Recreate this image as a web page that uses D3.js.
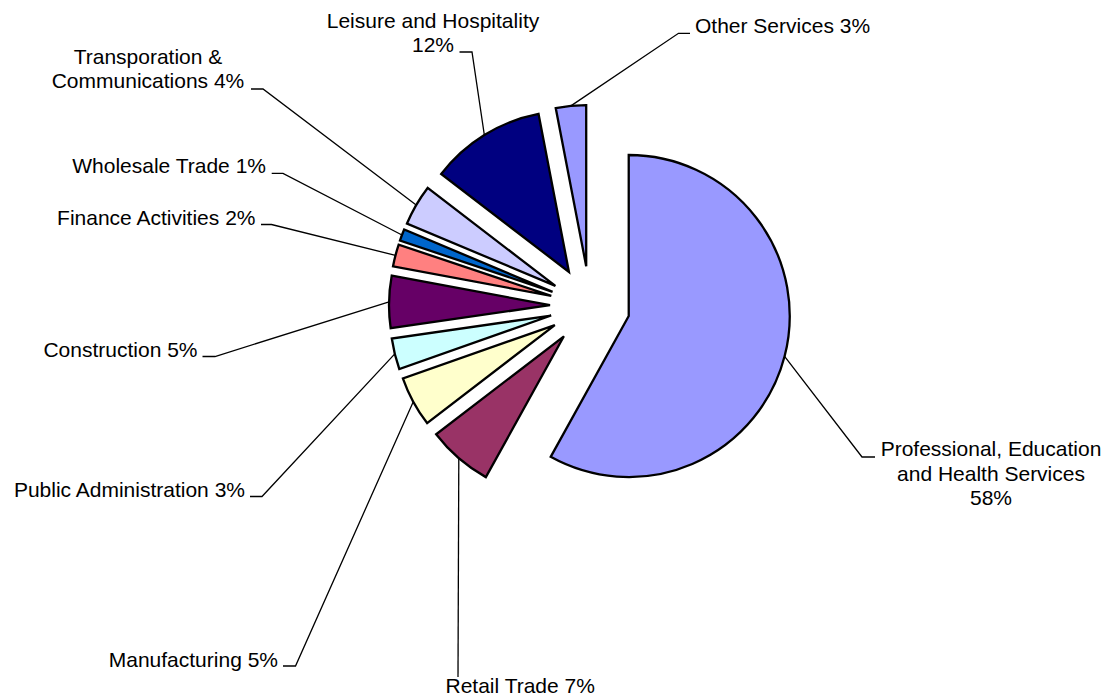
<!DOCTYPE html>
<html>
<head>
<meta charset="utf-8">
<script src="https://cdn.jsdelivr.net/npm/d3@7"></script>
<style>
  html, body { margin: 0; padding: 0; background: #ffffff; }
  svg { display: block; }
  text { font-family: "Liberation Sans", Arial, sans-serif; font-size: 21px; fill: #000; }
</style>
</head>
<body>
<svg id="chart" width="1109" height="698"></svg>
<script>
// ---- data ----
const categories = [
  "Professional, Education and Health Services",
  "Retail Trade",
  "Manufacturing",
  "Public Administration",
  "Construction",
  "Finance Activities",
  "Wholesale Trade",
  "Transporation & Communications",
  "Leisure and Hospitality",
  "Other Services"
];
const values = [58.06, 6.53, 5.03, 3.11, 5.22, 2.22, 1.17, 4.08, 11.56, 3.03];
const colors = ["#9999FF", "#993366", "#FFFFCC", "#CCFFFF", "#660066",
                "#FF8080", "#0066CC", "#CCCCFF", "#000080", "#9999FF"];

// ---- layout (label placement, words per line) ----
const labelLayout = [
  { anchor: "middle", x: 991,   y: 456,   lh: 24.5, words: [2, 3, 1], leader: [[862, 457], [875, 457]] },
  { anchor: "start",  x: 445.5, y: 693,   lh: 24,   words: null,      leader: [[458, 677]] },
  { anchor: "end",    x: 278,   y: 667,   lh: 24,   words: null,      leader: [[295.5, 666], [283, 666]] },
  { anchor: "end",    x: 245,   y: 497,   lh: 24,   words: null,      leader: [[262, 496.5], [250, 496.5]] },
  { anchor: "end",    x: 197.5, y: 357,   lh: 24,   words: null,      leader: [[215, 356.5], [202.5, 356.5]] },
  { anchor: "end",    x: 255.5, y: 224.5, lh: 24,   words: null,      leader: [[271.5, 224.5], [261, 224.5]] },
  { anchor: "end",    x: 266,   y: 172.5, lh: 24,   words: null,      leader: [[283, 173.3], [271.7, 173.3]] },
  { anchor: "middle", x: 148,   y: 64,    lh: 23.5, words: [2, 2],    leader: [[263, 89], [251, 89]] },
  { anchor: "middle", x: 433,   y: 27.5,  lh: 24.2, words: [3, 1],    leader: [[472, 52], [459.5, 52]] },
  { anchor: "start",  x: 695,   y: 33.3,  lh: 24,   words: null,      leader: [[678.5, 33.3], [690, 33.3]] }
];

const cx = 590, cy = 306, radius = 161, explode = 40;

const svg = d3.select("#chart");
const total = d3.sum(values);

const pie = d3.pie().sort(null).value(d => d).startAngle(0).endAngle(2 * Math.PI);
const arcs = pie(values);
const arcGen = d3.arc().innerRadius(0).outerRadius(radius);

const g = svg.append("g").attr("transform", `translate(${cx},${cy})`);

function offset(a, dist) {
  const m = (a.startAngle + a.endAngle) / 2;
  return [dist * Math.sin(m), -dist * Math.cos(m)];
}

// slices
g.selectAll("path.slice")
  .data(arcs)
  .join("path")
  .attr("class", "slice")
  .attr("d", arcGen)
  .attr("transform", d => { const o = offset(d, explode); return `translate(${o[0]},${o[1]})`; })
  .attr("fill", (d, i) => colors[i])
  .attr("stroke", "#000")
  .attr("stroke-width", 2.3)
  .attr("stroke-linejoin", "miter");

// leader lines
const line = d3.line();
arcs.forEach((a, i) => {
  const o = offset(a, explode);
  const m = offset(a, radius);
  const start = [cx + o[0] + m[0], cy + o[1] + m[1]];
  const pts = [start].concat(labelLayout[i].leader);
  svg.append("path")
    .attr("d", line(pts))
    .attr("fill", "none")
    .attr("stroke", "#000")
    .attr("stroke-width", 1.3);
});

// labels
const fmt = v => Math.round(v / total * 100) + "%";
arcs.forEach((a, i) => {
  const L = labelLayout[i];
  const full = categories[i] + " " + fmt(values[i]);
  let lines = [full];
  if (L.words) {
    const w = full.split(" ");
    lines = [];
    let k = 0;
    L.words.forEach(n => { lines.push(w.slice(k, k + n).join(" ")); k += n; });
  }
  const t = svg.append("text").attr("text-anchor", L.anchor);
  lines.forEach((s, j) => {
    t.append("tspan").attr("x", L.x).attr("y", L.y + j * L.lh).text(s);
  });
});
</script>
</body>
</html>
